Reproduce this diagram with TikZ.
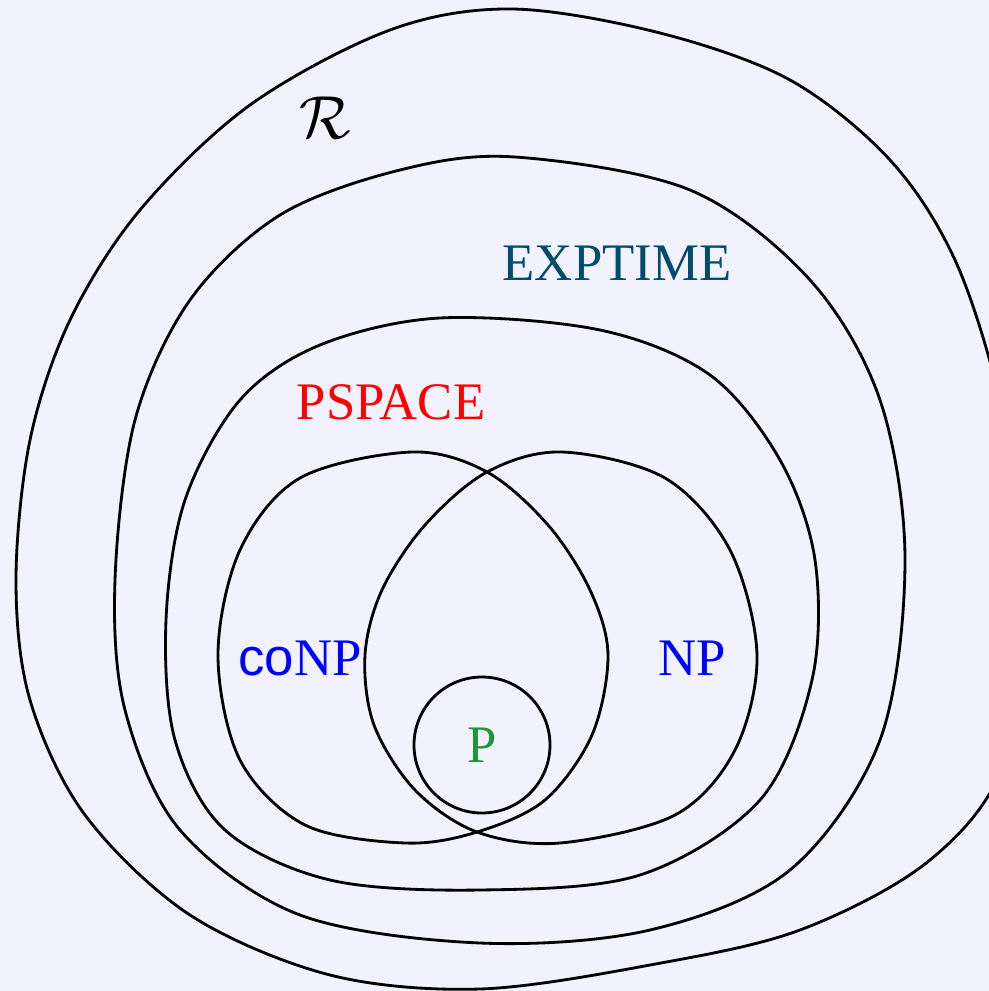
\documentclass[tikz,border=0pt]{standalone}
\usepackage{fontspec}
\setmainfont{Liberation Serif}
\newfontfamily\cofont{Liberation Sans}
\definecolor{bgcol}{RGB}{241,242,253}
\definecolor{expcol}{RGB}{0,76,110}
\definecolor{pcol}{RGB}{30,150,55}
\begin{document}
\begin{tikzpicture}[x=0.01cm, y=-0.01cm, font=\fontsize{15}{18}\selectfont]
      \tikzset{cls/.style={draw=black, line width=0.8pt, smooth cycle, tension=0.55}}
      \tikzset{lbl/.style={inner sep=0pt, anchor=center}}
      \fill[bgcol] (0,0) rectangle (989,991);
      \useasboundingbox (0,0) rectangle (989,991);
      \clip (0,0) rectangle (989,991);
      % class boundaries
      \draw[cls] plot coordinates {(512,9) (660,33) (790,80) (890,160) (955,260) (1000,400) (1030,570) (1005,760) (930,860) (800,930) (650,965) (480,989) (330,975) (190,915) (85,815) (30,700) (16,580) (30,440) (70,320) (140,210) (250,105) (390,30)};
      \draw[cls] plot coordinates {(515,157) (690,190) (810,280) (880,400) (905,560) (880,740) (790,870) (650,930) (480,943) (300,915) (180,830) (125,710) (115,580) (135,420) (190,300) (280,215) (400,170)};
      \draw[cls] plot coordinates {(440,318) (600,330) (710,375) (780,460) (815,560) (812,680) (760,800) (640,875) (480,890) (330,880) (225,830) (175,740) (166,620) (185,500) (240,400) (320,345)};
      \draw[cls] plot coordinates {(412,452) (487,472) (548,525) (590,590) (608,655) (592,735) (545,800) (477,832) (405,843) (305,825) (240,760) (218,655) (240,550) (300,478)};
      \draw[cls] plot coordinates {(562,452) (665,478) (730,550) (757,655) (735,750) (675,815) (560,843) (477,832) (415,790) (374,725) (365,655) (382,590) (425,525) (487,472)};
      \draw[line width=0.8pt] (482,745) circle[radius=68];
      % labels
      \node[lbl, font=\fontsize{18}{20}\selectfont] (r) at (325,118) {$\mathcal{R}$};
      \node[lbl, text=expcol] (exptime) at (617,263) {EXPTIME};
      \node[lbl, text=red] (pspace) at (391,402) {PSPACE};
      \node[lbl, text=blue] (conp) at (300,658) {{\cofont co}NP};
      \node[lbl, text=blue] (np) at (692,658) {NP};
      \node[lbl, text=pcol] (p) at (482,745) {P};
    \end{tikzpicture}
\end{document}
